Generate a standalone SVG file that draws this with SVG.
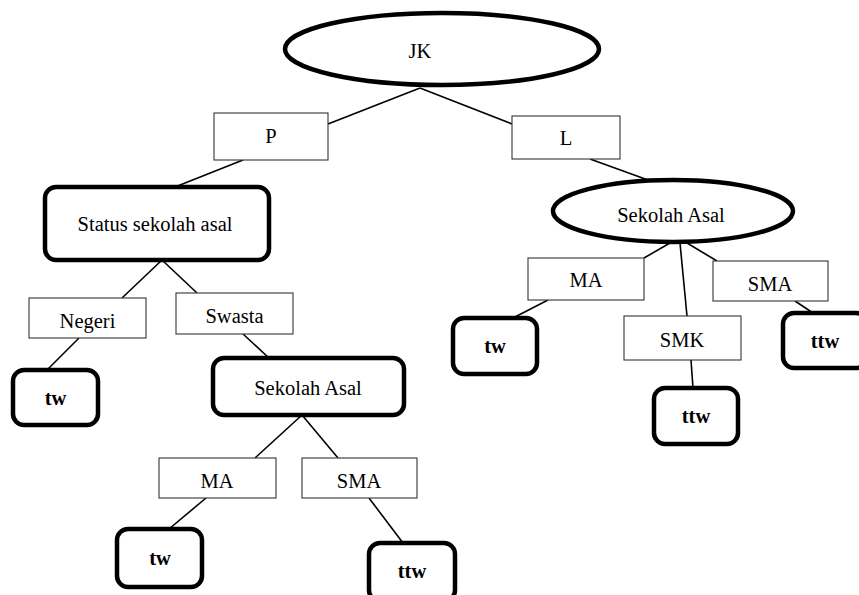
<svg xmlns="http://www.w3.org/2000/svg" width="859" height="595" viewBox="0 0 859 595">
  <style>
    .lbl { font-family: "Liberation Serif", "Times New Roman", serif; font-size: 20.5px; fill: #000; text-anchor: middle; }
    .bold { font-weight: bold; }
    .edge { stroke: #000; stroke-width: 1.6; fill: none; }
    .branch { fill: #fff; stroke: #333; stroke-width: 1.1; }
    .decision { fill: #fff; stroke: #000; stroke-width: 4.5; }
    .leaf { fill: #fff; stroke: #000; stroke-width: 4.5; }
  </style>
  <rect width="859" height="595" fill="#fff"/>

  <g id="connectors">
    <line class="edge" x1="420" y1="88" x2="328" y2="124"/>
    <line class="edge" x1="420" y1="88" x2="512" y2="124"/>
    <line class="edge" x1="243" y1="160" x2="175" y2="187"/>
    <line class="edge" x1="162" y1="260" x2="122" y2="298"/>
    <line class="edge" x1="162" y1="260" x2="197" y2="293"/>
    <line class="edge" x1="79" y1="338" x2="47" y2="370"/>
    <line class="edge" x1="243" y1="334" x2="269" y2="358"/>
    <line class="edge" x1="302" y1="415" x2="255" y2="458"/>
    <line class="edge" x1="302" y1="415" x2="338" y2="458"/>
    <line class="edge" x1="206" y1="498" x2="169" y2="529"/>
    <line class="edge" x1="369" y1="498" x2="403" y2="543"/>
    <line class="edge" x1="590" y1="159" x2="648" y2="180"/>
    <line class="edge" x1="670" y1="243" x2="644" y2="258"/>
    <line class="edge" x1="680" y1="243" x2="687" y2="316"/>
    <line class="edge" x1="687" y1="243" x2="717" y2="261"/>
    <line class="edge" x1="548" y1="300" x2="513" y2="318"/>
    <line class="edge" x1="795" y1="301" x2="813" y2="313"/>
    <line class="edge" x1="691" y1="360" x2="693" y2="388"/>
  </g>

  <g id="jk">
    <ellipse class="decision" cx="442" cy="49" rx="157" ry="36"/>
    <text class="lbl" x="420" y="58">JK</text>
  </g>
  <g id="p">
    <rect class="branch" x="214" y="113" width="114" height="47"/>
    <text class="lbl" x="271" y="143">P</text>
  </g>
  <g id="l">
    <rect class="branch" x="512" y="116" width="108" height="43"/>
    <text class="lbl" x="566" y="145">L</text>
  </g>
  <g id="status-sekolah-asal">
    <rect class="decision" x="45" y="187" width="224" height="73" rx="11"/>
    <text class="lbl" x="155" y="231">Status sekolah asal</text>
  </g>
  <g id="negeri">
    <rect class="branch" x="29" y="298" width="117" height="40"/>
    <text class="lbl" x="87.5" y="328">Negeri</text>
  </g>
  <g id="swasta">
    <rect class="branch" x="176" y="293" width="117" height="41"/>
    <text class="lbl" x="234.5" y="323">Swasta</text>
  </g>
  <g id="tw-negeri">
    <rect class="leaf" x="13" y="370" width="85" height="55" rx="11"/>
    <text class="lbl bold" x="55.5" y="405">tw</text>
  </g>
  <g id="sekolah-asal-p">
    <rect class="decision" x="213" y="358" width="191" height="57" rx="11"/>
    <text class="lbl" x="308" y="395">Sekolah Asal</text>
  </g>
  <g id="ma-p">
    <rect class="branch" x="159" y="458" width="117" height="40"/>
    <text class="lbl" x="217" y="488">MA</text>
  </g>
  <g id="sma-p">
    <rect class="branch" x="302" y="458" width="115" height="40"/>
    <text class="lbl" x="359" y="488">SMA</text>
  </g>
  <g id="tw-ma-p">
    <rect class="leaf" x="117" y="529" width="85" height="58" rx="11"/>
    <text class="lbl bold" x="160" y="565">tw</text>
  </g>
  <g id="ttw-sma-p">
    <rect class="leaf" x="369" y="543" width="86" height="58" rx="11"/>
    <text class="lbl bold" x="412" y="578">ttw</text>
  </g>

  <g id="sekolah-asal-l">
    <ellipse class="decision" cx="673" cy="211" rx="120" ry="31"/>
    <text class="lbl" x="671" y="222">Sekolah Asal</text>
  </g>
  <g id="ma-l">
    <rect class="branch" x="528" y="258" width="116" height="42"/>
    <text class="lbl" x="586" y="287">MA</text>
  </g>
  <g id="smk-l">
    <rect class="branch" x="624" y="316" width="117" height="44"/>
    <text class="lbl" x="682" y="347">SMK</text>
  </g>
  <g id="sma-l">
    <rect class="branch" x="713" y="261" width="115" height="40"/>
    <text class="lbl" x="770" y="291">SMA</text>
  </g>
  <g id="tw-ma-l">
    <rect class="leaf" x="453" y="318" width="84" height="56" rx="11"/>
    <text class="lbl bold" x="495" y="353">tw</text>
  </g>
  <g id="ttw-smk-l">
    <rect class="leaf" x="654" y="388" width="84" height="56" rx="11"/>
    <text class="lbl bold" x="696" y="423">ttw</text>
  </g>
  <g id="ttw-sma-l">
    <rect class="leaf" x="783" y="313" width="84" height="55" rx="11"/>
    <text class="lbl bold" x="825" y="348">ttw</text>
  </g>
</svg>
